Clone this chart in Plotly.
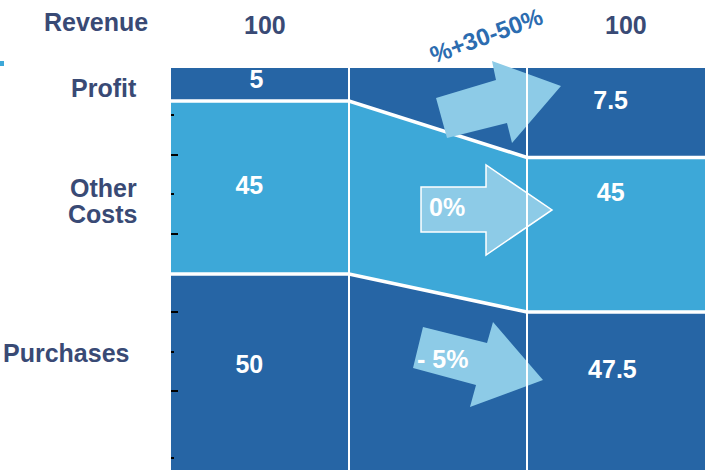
import plotly.graph_objects as go

# ---------------- data ----------------
stages = ["Current", "Transition", "Target"]
categories = ["Purchases", "Other Costs", "Profit"]
revenue_labels = ["100", "100"]
values_current = [50, 45, 5]
values_target = [47.5, 45, 7.5]
change_labels = ["- 5%", "0%", "%+30-50%"]
# schematic band edges as drawn in the picture (y scale 0..102)
edges_current = [0, 49.7, 93.6, 102]
edges_target = [0, 40.1, 79.3, 102]

# ---------------- style ----------------
DARK = "#2665A5"
LIGHT = "#3DA8D8"
ARROW = "#8DCBE7"
NAVY = "#394A75"
band_colors = [DARK, LIGHT, DARK]
FONT = "Liberation Sans, Arial, sans-serif"
FS = 25

W, H = 705, 473
L, T, PW, PH = 171, 68, 534, 402


def P(px, py):
    return (px - L) / PW, (T + PH - py) / PH


def path(pts):
    s = []
    for i, (px, py) in enumerate(pts):
        x, y = P(px, py)
        s.append(("M" if i == 0 else "L") + f"{x:.4f},{y:.4f}")
    return " ".join(s) + " Z"


fig = go.Figure()

# bands
for i in range(3):
    lc, hc = edges_current[i], edges_current[i + 1]
    lt, ht = edges_target[i], edges_target[i + 1]
    fig.add_trace(go.Scatter(
        x=[0, 1, 2, 3, 3, 2, 1, 0],
        y=[lc, lc, lt, lt, ht, ht, hc, hc],
        fill="toself", fillcolor=band_colors[i], mode="lines",
        line=dict(width=0), hoverinfo="skip", showlegend=False))

# white separators between bands
for i in (1, 2):
    fig.add_trace(go.Scatter(
        x=[0, 1, 2, 3],
        y=[edges_current[i], edges_current[i], edges_target[i], edges_target[i]],
        mode="lines", line=dict(color="white", width=3.5),
        hoverinfo="skip", showlegend=False))

# value labels
lab_x_cur = [0.44, 0.44, 0.48]
lab_y_cur = [26.1, 71.6, 98.6]
lab_x_tgt = [2.48, 2.47, 2.47]
lab_y_tgt = [24.9, 69.8, 93.1]
fig.add_trace(go.Scatter(
    x=lab_x_cur, y=lab_y_cur, mode="text",
    text=[f"{v:g}" for v in values_current],
    textfont=dict(family=FONT, size=FS, color="white", weight="bold"),
    hoverinfo="skip", showlegend=False))
fig.add_trace(go.Scatter(
    x=lab_x_tgt, y=lab_y_tgt, mode="text",
    text=[f"{v:g}" for v in values_target],
    textfont=dict(family=FONT, size=FS, color="white", weight="bold"),
    hoverinfo="skip", showlegend=False))

shapes = []
# arrows (pixel outlines)
arrow_profit = [(436, 98), (496, 80), (492, 61), (561, 86), (512, 143), (507, 123), (447, 138)]
arrow_other = [(421, 187), (486, 187), (486, 165), (552, 210), (486, 255), (486, 232), (421, 232)]
arrow_purch = [(423, 327), (487, 343), (493, 322), (543, 380), (470, 407), (476, 385), (413, 368)]
shapes.append(dict(type="path", xref="paper", yref="paper", path=path(arrow_profit),
                   fillcolor=ARROW, line=dict(width=0), layer="above"))
shapes.append(dict(type="path", xref="paper", yref="paper", path=path(arrow_other),
                   fillcolor=ARROW, line=dict(color="white", width=1.5), layer="above"))
shapes.append(dict(type="path", xref="paper", yref="paper", path=path(arrow_purch),
                   fillcolor=ARROW, line=dict(width=0), layer="above"))
# vertical column separators (on top)
for xv in (1, 2):
    shapes.append(dict(type="line", xref="x", yref="y", x0=xv, x1=xv, y0=0, y1=102,
                       line=dict(color="white", width=2), layer="above"))
# small marker at top-left
x0, y0 = P(0, 61)
x1, y1 = P(4, 66)
shapes.append(dict(type="rect", xref="paper", yref="paper", x0=x0, x1=x1, y0=y1, y1=y0,
                   fillcolor=LIGHT, line=dict(width=0)))

annotations = []


def ann(text, px, py, size=FS, color=NAVY, xanchor="center", angle=0):
    x, y = P(px, py)
    annotations.append(dict(text=text, x=x, y=y, xref="paper", yref="paper",
                            xanchor=xanchor, yanchor="middle", showarrow=False,
                            textangle=angle,
                            font=dict(family=FONT, size=size, color=color, weight="bold")))


# header
ann("Revenue", 96, 22)
ann(revenue_labels[0], 265, 25)
ann(revenue_labels[1], 626, 25)
# category labels
ann(categories[2], 139, 88, xanchor="right")
other, costs = categories[1].split(" ")
ann(other, 139, 188, xanchor="right")
ann(costs, 139, 214, xanchor="right")
ann(categories[0], 131, 353, xanchor="right")
# change labels
ann(change_labels[2], 486, 35, size=24, color="#2C6CB0", angle=-20)
ann(change_labels[1], 447, 207, color="white")
ann(change_labels[0], 442, 359, color="white")

fig.update_layout(
    width=W, height=H,
    margin=dict(l=L, r=W - L - PW, t=T, b=H - T - PH),
    paper_bgcolor="white", plot_bgcolor="white",
    xaxis=dict(range=[0, 3], showgrid=False, zeroline=False, showline=False,
               showticklabels=False, ticks="", fixedrange=True),
    yaxis=dict(range=[0, 102], showgrid=False, zeroline=False, showline=False,
               showticklabels=False, ticks="inside", ticklen=7, tickwidth=2,
               tickcolor="black", tickvals=[20, 40, 60, 80],
               minor=dict(ticks="inside", ticklen=3, tickwidth=2, tickcolor="black",
                          tickvals=[3, 30, 70, 90]),
               fixedrange=True),
    shapes=shapes,
    annotations=annotations,
    showlegend=False,
    hovermode=False,
)

fig.write_html(
    "out.html",
    config={"displayModeBar": False, "staticPlot": True},
    post_script="document.body.style.margin='0';document.body.style.overflow='hidden';",
)
